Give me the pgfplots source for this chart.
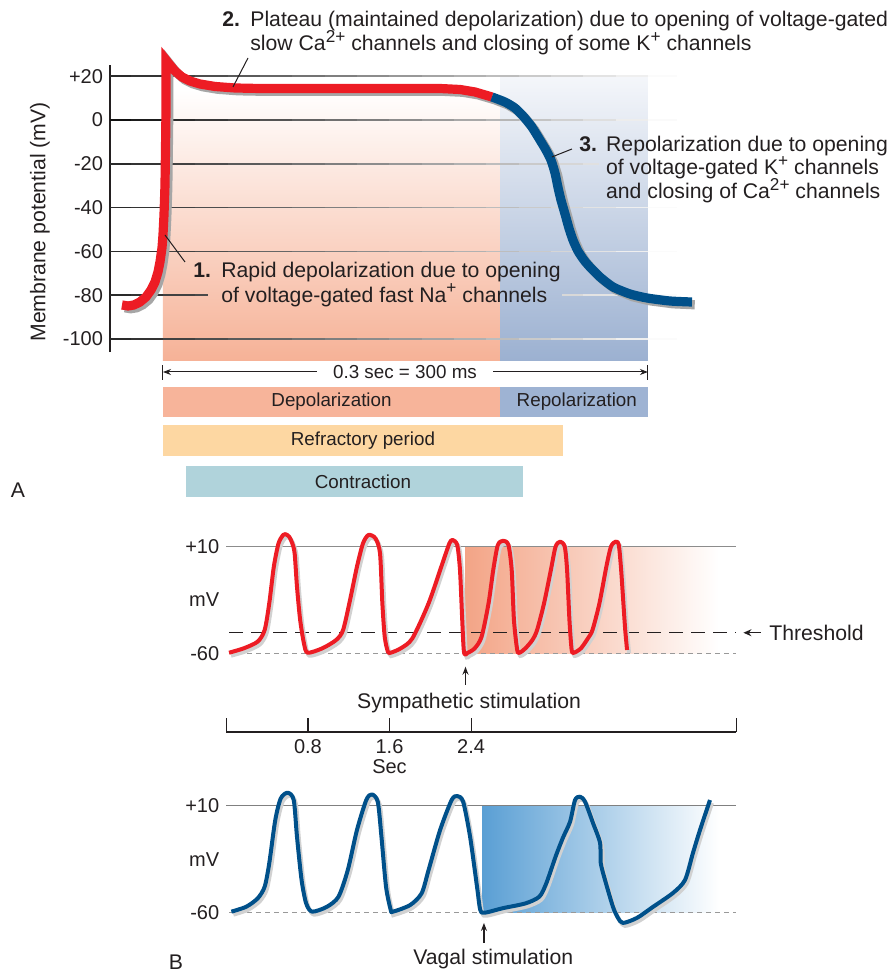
\documentclass[border=0pt]{standalone}
\usepackage{fontspec}
\setmainfont{Liberation Sans}
\usepackage{pgfplots}
\pgfplotsset{compat=1.18}
\usetikzlibrary{arrows.meta}
\definecolor{txt}{HTML}{231F20}
\definecolor{apred}{HTML}{ED1C24}
\definecolor{apblue}{HTML}{00508A}
\definecolor{salmonA}{HTML}{F6B297}
\definecolor{blueTop}{HTML}{F4F6FA}
\definecolor{blueBot}{HTML}{9CB1D1}
\definecolor{depol}{HTML}{F7B49A}
\definecolor{repol}{HTML}{9EB3D3}
\definecolor{refr}{HTML}{FDD7A2}
\definecolor{contr}{HTML}{B0D3DB}
\definecolor{symp}{HTML}{F3A486}
\definecolor{vagal}{HTML}{5A9FD4}
\newcommand{\supx}[1]{\raisebox{0.4em}{\fontsize{8.6}{8.6}\selectfont #1}}
\pgfplotsset{
  colormap={gfade}{color=(black!85) color=(white)},
  colormap={gfadez}{color=(black!95) color=(white)},
  gline/.style={mesh, colormap name=gfade, no markers, line width=0.8pt,
    point meta=x, point meta min=-32.78, point meta max=317.9, forget plot},
  glinez/.style={gline, colormap name=gfadez, line width=1.2pt}}
\tikzset{big/.style={font=\fontsize{10.6}{12.7}\selectfont},
  small/.style={font=\fontsize{9.4}{11}\selectfont}}
\begin{document}
\begin{tikzpicture}[font=\fontsize{10}{12}\selectfont, every node/.append style={text=txt}]
\path[use as bounding box] (0,0) rectangle (446pt,-486pt);
% ================= Panel A =================
\begin{axis}[at={(55pt,-176pt)}, anchor=south west, scale only axis,
  width=295pt, height=143.5pt,
  xmin=-32.78, xmax=332.2, ymin=-105.94, ymax=25.11, clip=false,
  axis x line=none, axis y line=left,
  y axis line style={-, line width=1pt, draw=txt},
  ytick={-100,-80,-60,-40,-20,0,20},
  yticklabels={-100,-80,-60,-40,-20,0,+20},
  major tick length=0pt, ytick style={draw=none},
  yticklabel style={text=txt}]
% background regions
\shade[top color=white, bottom color=salmonA] (axis cs:0,14) rectangle (axis cs:208.5,-109.6);
\shade[top color=blueTop, bottom color=blueBot] (axis cs:208.5,19.6) rectangle (axis cs:300,-109.6);
% grid lines (fading to the right)
\addplot[gline] coordinates {(-32.78,20) (-20,20) (0,20) (20,20) (40,20) (60,20) (80,20) (100,20) (120,20) (140,20) (160,20) (180,20) (200,20) (220,20) (240,20) (260,20) (280,20) (300,20) (317.9,20)};
\addplot[glinez] coordinates {(-32.78,0) (-20,0) (0,0) (20,0) (40,0) (60,0) (80,0) (100,0) (120,0) (140,0) (160,0) (180,0) (200,0) (220,0) (240,0) (260,0) (280,0) (300,0) (317.9,0)};
\addplot[gline] coordinates {(-32.78,-20) (-20,-20) (0,-20) (20,-20) (40,-20) (60,-20) (80,-20) (100,-20) (120,-20) (140,-20) (160,-20) (180,-20) (200,-20) (220,-20) (240,-20) (260,-20) (270,-20)};
\addplot[gline] coordinates {(-32.78,-40) (-20,-40) (0,-40) (20,-40) (40,-40) (60,-40) (80,-40) (100,-40) (120,-40) (140,-40) (160,-40) (180,-40) (200,-40) (220,-40) (240,-40) (260,-40) (280,-40) (300,-40) (317.9,-40)};
\addplot[gline] coordinates {(-32.78,-60) (-20,-60) (0,-60) (20,-60) (40,-60) (60,-60) (80,-60) (100,-60) (120,-60) (140,-60) (160,-60) (180,-60) (200,-60) (220,-60) (240,-60) (260,-60) (280,-60) (300,-60) (317.9,-60)};
\addplot[gline] coordinates {(-32.78,-80) (-20,-80) (0,-80) (20,-80) (27.8,-80)};
\addplot[gline] coordinates {(246.8,-80) (260,-80) (280,-80) (300,-80) (317.9,-80)};
\addplot[gline] coordinates {(-32.78,-100) (-20,-100) (0,-100) (20,-100) (40,-100) (60,-100) (80,-100) (100,-100) (120,-100) (140,-100) (160,-100) (180,-100) (200,-100) (220,-100) (240,-100) (260,-100) (280,-100) (300,-100) (317.9,-100)};
% action potential: shadow
\addplot[no markers, line width=4.6pt, draw=black!35, xshift=1.4pt, yshift=-1.4pt] coordinates {
(-25.36,-84.47) (-21.65,-84.93) (-17.94,-84.47) (-14.23,-83.11) (-10.52,-80.82) (-7.42,-77.63)
(-4.95,-73.97) (-3.09,-69.41) (-1.86,-64.84) (-0.62,-58.45) (0,-52.51) (0.62,-43.38) (1.24,-29.68)
(1.55,-13.70) (1.86,4.57) (1.86,18.26) (1.86,27.40) (4.33,25.11) (7.42,22.37) (11.75,19.63)
(16.70,17.81) (22.89,16.44) (32.16,15.30) (44.54,14.61) (60.0,14.38) (84.74,14.38) (146.6,14.38)
(171.3,14.38) (183.7,13.93) (193.0,12.79) (203.5,10.50)
(211.5,8.22) (217.7,5.48) (222.7,1.83) (228.2,-3.20) (233.2,-9.13) (236.9,-13.70) (240.0,-18.26)
(242.5,-24.20) (244.3,-30.59) (246.2,-36.53) (248.7,-42.92) (251.1,-49.32) (253.6,-54.79)
(256.7,-59.82) (260.4,-63.93) (264.1,-67.12) (270.3,-71.69) (278.4,-76.26) (288.9,-79.45)
(299.4,-81.28) (313.6,-82.65) (327.2,-83.11)};
% red: depolarization + plateau
\addplot[no markers, line width=4.6pt, draw=apred] coordinates {
(-25.36,-84.47) (-21.65,-84.93) (-17.94,-84.47) (-14.23,-83.11) (-10.52,-80.82) (-7.42,-77.63)
(-4.95,-73.97) (-3.09,-69.41) (-1.86,-64.84) (-0.62,-58.45) (0,-52.51) (0.62,-43.38) (1.24,-29.68)
(1.55,-13.70) (1.86,4.57) (1.86,18.26) (1.86,27.40) (4.33,25.11) (7.42,22.37) (11.75,19.63)
(16.70,17.81) (22.89,16.44) (32.16,15.30) (44.54,14.61) (60.0,14.38) (84.74,14.38) (146.6,14.38)
(171.3,14.38) (183.7,13.93) (193.0,12.79) (203.5,10.50)};
% blue: repolarization
\addplot[no markers, line width=4.6pt, draw=apblue, smooth, tension=0.4] coordinates {
(203.5,10.50) (211.5,8.22) (217.7,5.48) (222.7,1.83) (228.2,-3.20) (233.2,-9.13) (236.9,-13.70)
(240.0,-18.26) (242.5,-24.20) (244.3,-30.59) (246.2,-36.53) (248.7,-42.92) (251.1,-49.32)
(253.6,-54.79) (256.7,-59.82) (260.4,-63.93) (264.1,-67.12) (270.3,-71.69) (278.4,-76.26)
(288.9,-79.45) (299.4,-81.28) (313.6,-82.65) (327.2,-83.11)};
% annotations
\node[big, anchor=base west, inner sep=0] at (axis cs:36.49,42.47) {\bfseries 2.};
\node[big, anchor=base west, inner sep=0] at (axis cs:53.81,42.47) {Plateau (maintained depolarization) due to opening of voltage-gated};
\node[big, anchor=base west, inner sep=0] at (axis cs:53.81,31.51) {slow Ca\supx{2+} channels and closing of some K\supx{+} channels};
\draw[txt, line width=0.5pt] (axis cs:52.58,28.31) -- (axis cs:43.30,15.07);
\node[big, anchor=base west, inner sep=0] at (axis cs:18.56,-72.15) {\bfseries 1.};
\node[big, anchor=base west, inner sep=0] at (axis cs:35.88,-72.15) {Rapid depolarization due to opening};
\node[big, anchor=base west, inner sep=0] at (axis cs:35.88,-83.11) {of voltage-gated fast Na\supx{+} channels};
\draw[txt, line width=0.5pt] (axis cs:13.61,-64.84) -- (axis cs:1.24,-52.51);
\node[big, anchor=base west, inner sep=0] at (axis cs:257.3,-14.61) {\bfseries 3.};
\node[big, anchor=base west, inner sep=0] at (axis cs:273.9,-14.61) {Repolarization due to opening};
\node[big, anchor=base west, inner sep=0] at (axis cs:273.9,-25.11) {of voltage-gated K\supx{+} channels};
\node[big, anchor=base west, inner sep=0] at (axis cs:273.9,-36.07) {and closing of Ca\supx{2+} channels};
\draw[txt, line width=0.5pt] (axis cs:253.0,-13.24) -- (axis cs:240.6,-16.89);
\node[big, rotate=90] at (axis cs:-76.08,-46.58) {Membrane potential (mV)};
\node[big] at (axis cs:-89.7,-168.9) {A};
% duration arrow
\draw[txt, line width=0.5pt, {Stealth[length=4pt,width=3pt]}-{Stealth[length=4pt,width=3pt]}] (axis cs:0,-115.07) -- (axis cs:300,-115.07);
\draw[txt, line width=0.5pt] (axis cs:0,-111.9) -- (axis cs:0,-118.7);
\draw[txt, line width=0.5pt] (axis cs:300,-111.9) -- (axis cs:300,-118.7);
\node[small, fill=white, inner xsep=8pt, inner ysep=1pt] at (axis cs:149.7,-115.07) {0.3 sec = 300 ms};
% phase bars
\addplot[draw=none, fill=depol] coordinates {(0,-121.92) (208.5,-121.92) (208.5,-135.62) (0,-135.62)} -- cycle;
\addplot[draw=none, fill=repol] coordinates {(208.5,-121.92) (300,-121.92) (300,-135.62) (208.5,-135.62)} -- cycle;
\addplot[draw=none, fill=refr] coordinates {(0,-139.27) (247.4,-139.27) (247.4,-153.42) (0,-153.42)} -- cycle;
\addplot[draw=none, fill=contr] coordinates {(14.23,-157.99) (222.7,-157.99) (222.7,-172.15) (14.23,-172.15)} -- cycle;
\node[small] at (axis cs:104.25,-128.77) {Depolarization};
\node[small] at (axis cs:256,-128.77) {Repolarization};
\node[small] at (axis cs:123.7,-146.35) {Refractory period};
\node[small] at (axis cs:123.7,-165.07) {Contraction};
\end{axis}
% ================= Panel B, sympathetic =================
\begin{axis}[at={(113.15pt,-326.65pt)}, anchor=south west, scale only axis,
  width=255pt, height=53.3pt, xmin=0, xmax=5, ymin=-60, ymax=10, hide axis, clip=false]
\shade[left color=symp, right color=white] (axis cs:2.345,-60) rectangle (axis cs:4.83,10);
\draw[black!45, line width=0.6pt] (axis cs:0,10) -- (axis cs:5,10);
\draw[black!40, line width=0.6pt, dash pattern=on 2.5pt off 2pt] (axis cs:0.027,-60) -- (axis cs:5,-60);
\draw[txt, line width=0.75pt, dash pattern=on 7pt off 4pt] (axis cs:0.027,-46.5) -- (axis cs:4.99,-46.5);
\addplot[no markers, smooth, tension=0.45, line width=2pt, draw=black!18, xshift=1pt, yshift=-1.5pt] coordinates {
(0.027,-59.6) (0.172,-56.7) (0.308,-52.3) (0.376,-44.7) (0.421,-27.2) (0.466,-3.1) (0.512,12.2)
(0.557,17.7) (0.579,18.3) (0.616,16.6) (0.647,12.2) (0.670,5.6) (0.693,-16.3) (0.724,-38.1)
(0.761,-53.4) (0.797,-59.6) (0.942,-56.7) (1.077,-51.25) (1.145,-44.7) (1.213,-25) (1.281,-3.1)
(1.340,12.2) (1.394,17.7) (1.462,15.5) (1.507,5.6) (1.530,-27.2) (1.553,-49.1) (1.584,-58.9)
(1.612,-59.6) (1.711,-56.7) (1.824,-50.2) (1.983,-27.2) (2.119,-0.9) (2.187,12.2) (2.218,14.4)
(2.264,11.1) (2.291,-5.3) (2.313,-38.1) (2.331,-59.6) (2.368,-59.6) (2.436,-56.7) (2.503,-49.1)
(2.571,-27.2) (2.617,-5.3) (2.662,11.1) (2.716,13.9) (2.766,11.1) (2.798,-5.3) (2.820,-38.1)
(2.852,-57.8) (2.875,-59.6) (2.933,-56.7) (3.001,-51.25) (3.047,-44.7) (3.115,-27.2) (3.182,-5.3)
(3.228,10) (3.273,13.3) (3.318,10) (3.341,-5.3) (3.364,-38.1) (3.386,-57.8) (3.409,-59.6)
(3.477,-56.7) (3.545,-50.2) (3.590,-44.7) (3.658,-27.2) (3.726,-3.1) (3.771,10) (3.816,13.3)
(3.848,11.1) (3.871,-5.3) (3.893,-27.2) (3.911,-44.7) (3.929,-57.8)};
\addplot[no markers, smooth, tension=0.45, line width=2pt, draw=apred, line join=round] coordinates {
(0.027,-59.6) (0.172,-56.7) (0.308,-52.3) (0.376,-44.7) (0.421,-27.2) (0.466,-3.1) (0.512,12.2)
(0.557,17.7) (0.579,18.3) (0.616,16.6) (0.647,12.2) (0.670,5.6) (0.693,-16.3) (0.724,-38.1)
(0.761,-53.4) (0.797,-59.6) (0.942,-56.7) (1.077,-51.25) (1.145,-44.7) (1.213,-25) (1.281,-3.1)
(1.340,12.2) (1.394,17.7) (1.462,15.5) (1.507,5.6) (1.530,-27.2) (1.553,-49.1) (1.584,-58.9)
(1.612,-59.6) (1.711,-56.7) (1.824,-50.2) (1.983,-27.2) (2.119,-0.9) (2.187,12.2) (2.218,14.4)
(2.264,11.1) (2.291,-5.3) (2.313,-38.1) (2.331,-59.6) (2.368,-59.6) (2.436,-56.7) (2.503,-49.1)
(2.571,-27.2) (2.617,-5.3) (2.662,11.1) (2.716,13.9) (2.766,11.1) (2.798,-5.3) (2.820,-38.1)
(2.852,-57.8) (2.875,-59.6) (2.933,-56.7) (3.001,-51.25) (3.047,-44.7) (3.115,-27.2) (3.182,-5.3)
(3.228,10) (3.273,13.3) (3.318,10) (3.341,-5.3) (3.364,-38.1) (3.386,-57.8) (3.409,-59.6)
(3.477,-56.7) (3.545,-50.2) (3.590,-44.7) (3.658,-27.2) (3.726,-3.1) (3.771,10) (3.816,13.3)
(3.848,11.1) (3.871,-5.3) (3.893,-27.2) (3.911,-44.7) (3.929,-57.8)};
\node[anchor=east] at (axis cs:0,10) {+10};
\node[anchor=east] at (axis cs:0,-25) {mV};
\node[anchor=east] at (axis cs:0,-60) {-60};
\draw[txt, line width=0.6pt, -{Stealth[length=4pt,width=3.5pt]}] (axis cs:5.24,-46.5) -- (axis cs:5.07,-46.5);
\node[big, anchor=west, inner sep=0] at (axis cs:5.32,-46.5) {Threshold};
\draw[txt, line width=0.6pt, -{Stealth[length=4pt,width=3pt]}] (axis cs:2.345,-80.8) -- (axis cs:2.345,-68.8);
\node[big] at (axis cs:2.38,-92.4) {Sympathetic stimulation};
\end{axis}
% ================= time ruler =================
\begin{axis}[at={(113.15pt,-366pt)}, anchor=south west, scale only axis,
  width=255pt, height=7pt, xmin=0, xmax=5, ymin=0, ymax=1, clip=false,
  axis x line=bottom, axis y line=none,
  axis line style={-, draw=txt, line width=0.6pt},
  xtick={0,0.8,1.6,2.4,5}, xticklabels={,0.8,1.6,2.4,},
  xtick align=inside, major tick length=7pt,
  xtick style={draw=txt, line width=0.6pt},
  xticklabel style={text=txt}]
\node at (axis cs:1.6,-2.5) {Sec};
\end{axis}
% ================= Panel B, vagal =================
\begin{axis}[at={(113.15pt,-456.35pt)}, anchor=south west, scale only axis,
  width=255pt, height=53.5pt, xmin=0, xmax=5, ymin=-60, ymax=10, hide axis, clip=false]
\shade[left color=vagal, right color=white] (axis cs:2.513,-60) rectangle (axis cs:4.83,10);
\draw[black!50, line width=0.6pt] (axis cs:0,10) -- (axis cs:5,10);
\draw[black!40, line width=0.6pt, dash pattern=on 2.5pt off 2pt] (axis cs:0.027,-60) -- (axis cs:5,-60);
\addplot[no markers, smooth, tension=0.45, line width=2pt, draw=black!18, xshift=1pt, yshift=-1.5pt] coordinates {
(0.050,-59.3) (0.195,-56.1) (0.308,-50.6) (0.376,-43.0) (0.421,-27.7) (0.480,0.6) (0.534,14.8)
(0.602,18.5) (0.661,13.7) (0.693,-10.3) (0.738,-38.6) (0.783,-53.9) (0.842,-59.3) (0.987,-56.1)
(1.100,-49.5) (1.191,-32.1) (1.281,-5.9) (1.372,13.7) (1.426,17.4) (1.485,12.6) (1.521,-10.3)
(1.566,-43.0) (1.612,-58.2) (1.634,-59.3) (1.802,-55.0) (1.915,-47.3) (1.983,-32.1) (2.096,-5.9)
(2.209,13.7) (2.264,16.3) (2.322,12.6) (2.390,-10.3) (2.458,-43.0) (2.490,-58.2) (2.535,-60.0)
(2.707,-57.1) (2.933,-53.9) (3.069,-49.5) (3.137,-40.8) (3.23,-23) (3.30,-11) (3.37,-0.5)
(3.419,13.7) (3.468,15.9) (3.517,12.6) (3.595,-1.3) (3.664,-14.3) (3.671,-27.5) (3.713,-38.6)
(3.791,-56.2) (3.84,-63.4) (3.889,-66.7) (4.026,-63.4) (4.183,-56.2) (4.379,-47.1) (4.497,-38.6)
(4.575,-20.9) (4.644,-5.9) (4.742,13.7)};
\addplot[no markers, smooth, tension=0.45, line width=2pt, draw=apblue, line join=round] coordinates {
(0.050,-59.3) (0.195,-56.1) (0.308,-50.6) (0.376,-43.0) (0.421,-27.7) (0.480,0.6) (0.534,14.8)
(0.602,18.5) (0.661,13.7) (0.693,-10.3) (0.738,-38.6) (0.783,-53.9) (0.842,-59.3) (0.987,-56.1)
(1.100,-49.5) (1.191,-32.1) (1.281,-5.9) (1.372,13.7) (1.426,17.4) (1.485,12.6) (1.521,-10.3)
(1.566,-43.0) (1.612,-58.2) (1.634,-59.3) (1.802,-55.0) (1.915,-47.3) (1.983,-32.1) (2.096,-5.9)
(2.209,13.7) (2.264,16.3) (2.322,12.6) (2.390,-10.3) (2.458,-43.0) (2.490,-58.2) (2.535,-60.0)
(2.707,-57.1) (2.933,-53.9) (3.069,-49.5) (3.137,-40.8) (3.23,-23) (3.30,-11) (3.37,-0.5)
(3.419,13.7) (3.468,15.9) (3.517,12.6) (3.595,-1.3) (3.664,-14.3) (3.671,-27.5) (3.713,-38.6)
(3.791,-56.2) (3.84,-63.4) (3.889,-66.7) (4.026,-63.4) (4.183,-56.2) (4.379,-47.1) (4.497,-38.6)
(4.575,-20.9) (4.644,-5.9) (4.742,13.7)};
\node[anchor=east] at (axis cs:0,10) {+10};
\node[anchor=east] at (axis cs:0,-25) {mV};
\node[anchor=east] at (axis cs:0,-60) {-60};
\draw[txt, line width=0.6pt, -{Stealth[length=4pt,width=3pt]}] (axis cs:2.526,-79.8) -- (axis cs:2.526,-66.7);
\node[big] at (axis cs:2.617,-90.3) {Vagal stimulation};
\node[big] at (axis cs:-0.493,-92.2) {B};
\end{axis}
\end{tikzpicture}
\end{document}
